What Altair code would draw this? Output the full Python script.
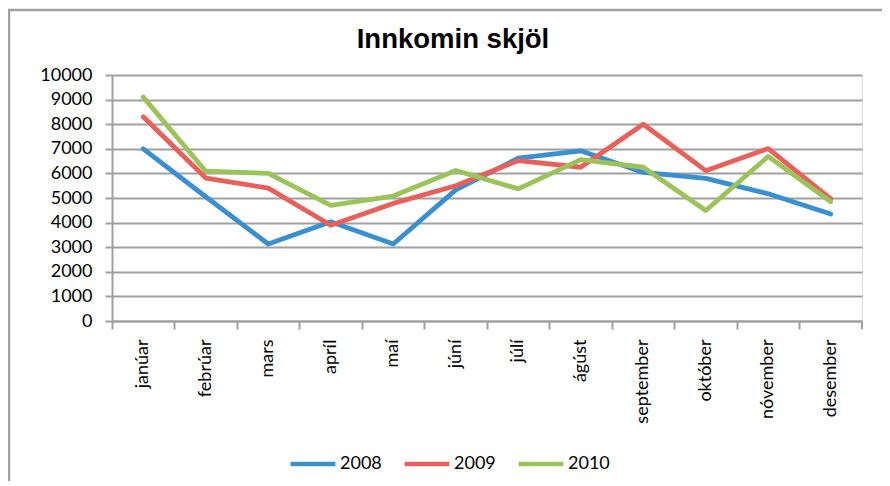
import altair as alt
import pandas as pd

months = ["janúar", "febrúar", "mars", "apríl", "maí", "júní",
          "júlí", "ágúst", "september", "október", "nóvember", "desember"]
years = ["2008", "2009", "2010"]
v2008 = [7000, 5050, 3130, 4030, 3130, 5330, 6620, 6920, 6040, 5800, 5170, 4350]
v2009 = [8300, 5810, 5400, 3890, 4780, 5500, 6520, 6250, 8000, 6110, 7010, 4960]
v2010 = [9100, 6090, 6000, 4700, 5080, 6120, 5370, 6560, 6250, 4490, 6690, 4850]
colors = ["#3A8FCF", "#E8605A", "#9BC35A"]
title_text = "Innkomin skjöl"

rows = []
for y, vals in zip(years, [v2008, v2009, v2010]):
    for m, v in zip(months, vals):
        rows.append({"month": m, "year": y, "value": v})
df = pd.DataFrame(rows)

FONT = "Lato"

lines = alt.Chart(df).mark_line(strokeWidth=4.8, strokeCap="round", strokeJoin="round").encode(
    x=alt.X("month:N", sort=months, bandPosition=0.5,
            scale=alt.Scale(type="band", paddingInner=0, paddingOuter=0),
            axis=alt.Axis(title=None, labelAngle=-90, bandPosition=0, grid=False,
                          tickSize=8, tickWidth=2, tickColor="#A0A0A0",
                          domainColor="#A0A0A0", domainWidth=2,
                          labelPadding=10, labelFontSize=18, labelFont=FONT,
                          labelColor="#000000")),
    y=alt.Y("value:Q", scale=alt.Scale(domain=[0, 10000], nice=False),
            axis=alt.Axis(title=None, values=list(range(0, 10001, 1000)), format="d",
                          tickSize=7, tickWidth=2, tickColor="#A0A0A0",
                          domainColor="#A0A0A0", domainWidth=2,
                          gridColor="#A0A0A0", gridWidth=2,
                          labelPadding=13, labelFontSize=18, labelFont=FONT,
                          labelColor="#000000")),
    color=alt.Color("year:N", scale=alt.Scale(domain=years, range=colors),
                    legend=alt.Legend(title=None, orient="none", direction="horizontal",
                                      legendX=176, legendY=364,
                                      symbolType="stroke", symbolSize=2000,
                                      symbolStrokeWidth=4.5, labelFontSize=18,
                                      labelFont=FONT, labelColor="#000000",
                                      columnPadding=13, labelOffset=2)),
)

one = pd.DataFrame({"t": [title_text]})
title = alt.Chart(one).mark_text(font="Liberation Sans", fontSize=27.5, fontWeight="bold",
                                 color="#000000", align="center", baseline="alphabetic").encode(
    text="t:N", x=alt.value(341), y=alt.value(-27)
)
frame = alt.Chart(one).mark_rule(color="#A0A0A0", strokeWidth=2.5).encode(
    x=alt.value(-104), x2=alt.value(780), y=alt.value(-65)
)
frame_left = alt.Chart(one).mark_rule(color="#A0A0A0", strokeWidth=2.5).encode(
    x=alt.value(-103), y=alt.value(-66), y2=alt.value(420)
)
end_tick = alt.Chart(one).mark_rule(color="#A0A0A0", strokeWidth=2).encode(
    x=alt.value(750), y=alt.value(246), y2=alt.value(254)
)

chart = alt.layer(frame, frame_left, end_tick, title, lines).properties(
    width=750, height=246,
    autosize=alt.AutoSizeParams(type="none"),
    padding={"left": 104, "top": 67, "right": 20, "bottom": 160},
).configure_view(stroke=None).configure(background="white")

chart.save("out.html", embed_options={"renderer": "svg", "actions": False})
